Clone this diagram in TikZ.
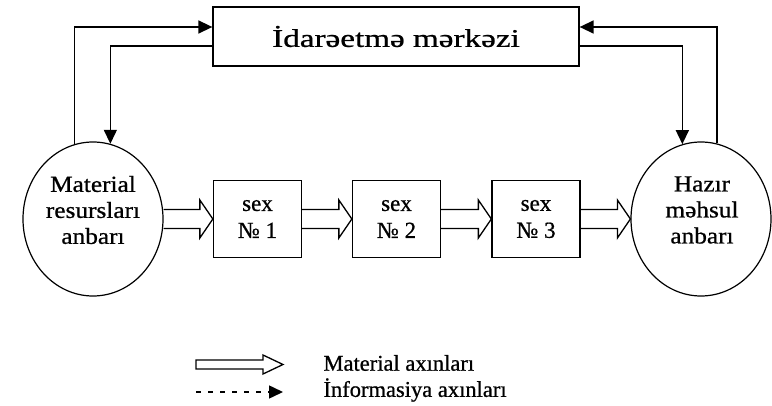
\documentclass[tikz,border=0pt]{standalone}
\usepackage{fontspec}
\setmainfont[FakeBold=0.8]{Liberation Serif}
\newfontfamily\wideserif[FakeStretch=1.3, FakeBold=0.8]{Liberation Serif}
\newfontfamily\midserif[FakeStretch=1.1, FakeBold=0.8]{Liberation Serif}
\usepackage{tikz}
\usetikzlibrary{arrows.meta, shapes.geometric, calc}
\tikzset{>={Triangle[length=14pt, width=13pt]}}
\tikzset{
    shop/.style={draw, line width=1.3pt, minimum width=88pt, minimum height=77pt, align=center, font=\fontsize{23}{27}\selectfont},
    store/.style={draw, ellipse, line width=1.2pt, inner sep=0pt, minimum width=140pt, minimum height=154pt},
    storetext/.style={align=center, font=\midserif\fontsize{23}{26}\selectfont},
    legend/.style={anchor=west, font=\fontsize{22.5}{26}\selectfont},
    info/.style={line width=1.5pt, ->},
    flow/.style={line width=1.3pt, line join=miter}
}
% hollow double arrow from #1 to #2
\newcommand{\matflow}[2]{
    \draw[flow]($(#1.east |- #2.west)+(0, 9.5)$)--($(#2.west)+(-13, 9.5)$)--($(#2.west)+(-13, 19)$)--(#2.west)
        --($(#2.west)+(-13, -19)$)--($(#2.west)+(-13, -9.5)$)--($(#1.east |- #2.west)+(0, -9.5)$)
}

\begin{document}
\begin{tikzpicture}[x=1pt, y=1pt]
    \useasboundingbox(0, 0)rectangle(772, 405);
    \node[draw, line width=1.3pt, minimum width=366pt, minimum height=59pt, font=\wideserif\fontsize{25.5}{30}\selectfont](ctrl) at(396, 368.5){İdarəetmə mərkəzi};
    \node[store](mra) at(93, 186){};
    \node[storetext](mratext) at(93, 195){Material\\resursları\\anbarı};
    \node[store](hma) at(701, 186){};
    \node[storetext](hmatext) at(702, 195){Hazır\\məhsul\\anbarı};
    \node[shop](s1) at(257.5, 186){sex\\№ 1};
    \node[shop](s2) at(396.5, 186){sex\\№ 2};
    \node[shop](s3) at(536, 186){sex\\№ 3};
    % material
    \matflow{mra}{s1};
    \matflow{s1}{s2};
    \matflow{s2}{s3};
    \matflow{s3}{hma};
    % information
    \draw[info](mra.104) |- ($(ctrl.west)+(0, 9.5)$);
    \draw[info]($(ctrl.west)+(0, -9.5)$) -| (mra.77);
    \draw[info](hma.78) |- ($(ctrl.east)+(0, 9.5)$);
    \draw[info]($(ctrl.east)+(0, -9.5)$) -| (hma.104);
    % legend
    \coordinate(lm0) at(196, 40.5);
    \coordinate(lm1) at(283, 40.5);
    \draw[flow]($(lm1)+(-20, 4.5)$)--($(lm0)+(0, 4.5)$)--($(lm0)+(0, -4.5)$)--($(lm1)+(-20, -4.5)$)
        --($(lm1)+(-20, -9.5)$)--(lm1)--($(lm1)+(-20, 9.5)$)--cycle;
    \node[legend](lmtext) at(320, 42){Material axınları};
    \coordinate(li0) at(196, 13);
    \coordinate(li1) at(283, 13);
    \draw[info, dash pattern=on 5pt off 7pt](li0)--(li1);
    \node[legend](litext) at(320, 15){İnformasiya axınları};
\end{tikzpicture}
\end{document}
